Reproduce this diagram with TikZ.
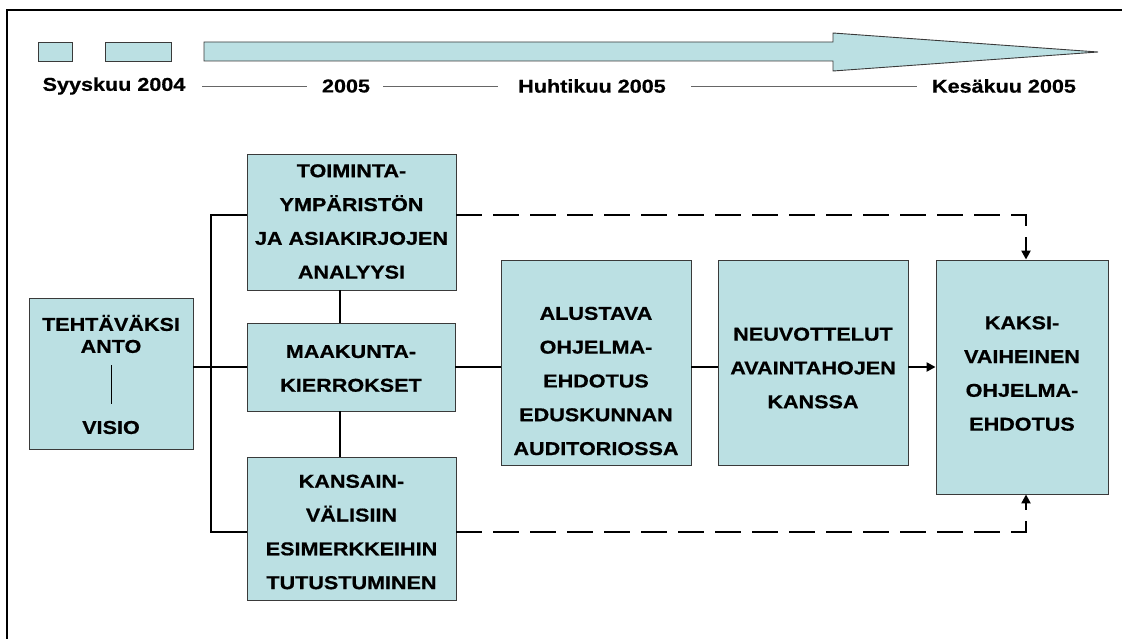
\documentclass[tikz,border=0pt]{standalone}
\usepackage{fontspec}
\setmainfont{Liberation Sans}[FakeStretch=1.16, BoldFeatures={FakeBold=0.7}]
\usetikzlibrary{arrows.meta}
\definecolor{boxfill}{HTML}{BBE0E3}
\definecolor{boxline}{HTML}{3A3A3A}
\tikzset{
  box/.style={draw=boxline, line width=0.9pt, fill=boxfill, inner sep=0pt, rectangle},
  txt/.style={inner sep=0pt, align=center, font=\fontsize{18.6pt}{33.8pt}\selectfont\bfseries},
  tlabel/.style={inner sep=0pt, font=\fontsize{18.6pt}{22pt}\selectfont\bfseries},
  sep/.style={draw=black!60, line width=0.9pt},
  conn/.style={draw=black, line width=2.8pt},
  dconn/.style={draw=black, line width=2.8pt, dash pattern=on 26pt off 11pt},
  tip/.style={-{Triangle[length=9pt,width=9pt]}}
}
\begin{document}
\begin{tikzpicture}[x=1pt,y=-1pt]
\useasboundingbox (0,0) rectangle (1122,639);
% frame
\draw[line width=2pt] (7,645) -- (7,10) -- (1130,10);

% timeline
\node[box, minimum width=34pt, minimum height=19pt] (tl1) at (55,51.5) {};
\node[box, minimum width=66pt, minimum height=19pt] (tl2) at (138,51.5) {};
\draw[boxline, line width=0.9pt, fill=boxfill] (204,42) -- (833,42) -- (833,33) -- (1098,52) -- (833,71) -- (833,61) -- (204,61) -- cycle;

\node[tlabel] (l1) at (114,86) {Syyskuu 2004};
\node[tlabel] (l2) at (346,86) {2005};
\node[tlabel] (l3) at (592,86) {Huhtikuu 2005};
\node[tlabel] (l4) at (1004,86) {Kesäkuu 2005};
\coordinate (s1a) at (202,86); \coordinate (s1b) at (307,86);
\coordinate (s2a) at (383,86); \coordinate (s2b) at (498,86);
\coordinate (s3a) at (691,86); \coordinate (s3b) at (917,86);
\draw[sep] (s1a) -- (s1b);
\draw[sep] (s2a) -- (s2b);
\draw[sep] (s3a) -- (s3b);

% boxes
\node[box, minimum width=164pt, minimum height=151pt] (teh) at (111,373.5) {};
\node[txt, font=\fontsize{18.6pt}{22pt}\selectfont\bfseries] (tehtxt) at (111,334) {TEHTÄVÄKSI\\ANTO};
\node[txt] (visio) at (111,427.5) {VISIO};
\coordinate (vl1) at (111,365); \coordinate (vl2) at (111,404);
\draw[black, line width=1pt] (vl1) -- (vl2);

\node[box, minimum width=209pt, minimum height=136pt] (toim) at (351.5,222) {};
\node[txt] (toimtxt) at (351.5,221.5) {TOIMINTA-\\YMPÄRISTÖN\\JA ASIAKIRJOJEN\\ANALYYSI};

\node[box, minimum width=208pt, minimum height=88pt] (maak) at (351,367) {};
\node[txt] (maaktxt) at (351,368.5) {MAAKUNTA-\\KIERROKSET};

\node[box, minimum width=209pt, minimum height=143pt] (kans) at (351.5,528.5) {};
\node[txt] (kanstxt) at (351.5,532) {KANSAIN-\\VÄLISIIN\\ESIMERKKEIHIN\\TUTUSTUMINEN};

\node[box, minimum width=190pt, minimum height=205pt] (alus) at (596,362.5) {};
\node[txt] (alustxt) at (596,381) {ALUSTAVA\\OHJELMA-\\EHDOTUS\\EDUSKUNNAN\\AUDITORIOSSA};

\node[box, minimum width=190pt, minimum height=205pt] (neuv) at (813,362.5) {};
\node[txt] (neuvtxt) at (813,368) {NEUVOTTELUT\\AVAINTAHOJEN\\KANSSA};

\node[box, minimum width=172pt, minimum height=234pt] (kaks) at (1022,377) {};
\node[txt] (kakstxt) at (1022,373.5) {KAKSI-\\VAIHEINEN\\OHJELMA-\\EHDOTUS};

% connectors
\coordinate (bt) at (211,215);
\coordinate (bb) at (211,532);
\coordinate (vx) at (340,0);
\coordinate (dt) at (1026,215);
\coordinate (db) at (1026,532);
\draw[conn] (toim.west |- bt) -- (bt) -- (bb) -- (kans.west |- bb);
\draw[conn] (teh.east |- maak.west) -- (maak.west);
\draw[conn] (toim.south -| vx) -- (maak.north -| vx);
\draw[conn] (maak.south -| vx) -- (kans.north -| vx);
\draw[conn] (maak.east) -- (alus.west |- maak.east);
\draw[conn] (alus.east |- maak.east) -- (neuv.west |- maak.east);
\draw[conn, tip] (neuv.east |- maak.east) -- (kaks.west |- maak.east);
\draw[dconn, tip] (toim.east |- dt) -- (dt) -- (kaks.north -| dt);
\draw[dconn, tip] (kans.east |- db) -- (db) -- (kaks.south -| db);
\end{tikzpicture}
\end{document}
